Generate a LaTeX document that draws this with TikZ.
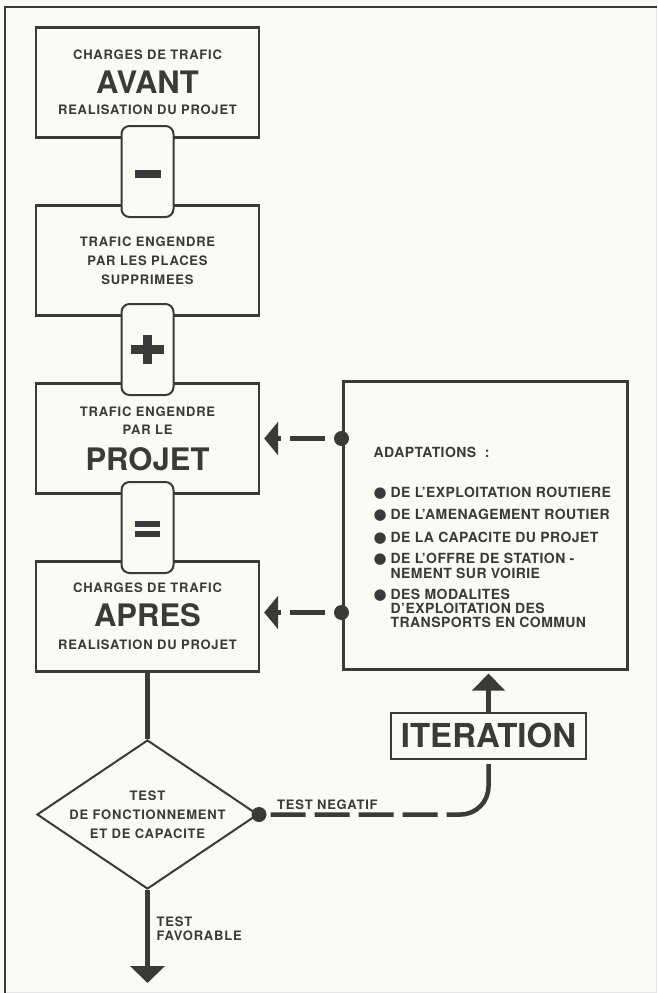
\documentclass[tikz,border=0pt]{standalone}
\usepackage{fontspec}
\setmainfont{TeX Gyre Heros}
\newfontfamily\helv[LetterSpace=6]{TeX Gyre Heros}
\newfontfamily\helvlarge[LetterSpace=3]{TeX Gyre Heros}
\newfontfamily\symb{DejaVu Sans}
\usetikzlibrary{positioning,shapes.geometric,arrows.meta}
\definecolor{encre}{RGB}{58,58,56}
\definecolor{papier}{RGB}{251,251,246}
\newcommand{\petit}{\helv\bfseries\fontsize{13}{19}\selectfont}
\newcommand{\grand}{\normalfont\bfseries\fontsize{31}{19}\selectfont}
\newcommand{\liste}{\helvlarge\bfseries\fontsize{14}{14}\selectfont}
\newcommand{\puce}{\makebox[17pt][l]{\symb\fontsize{15}{14}\selectfont ●}}
\lineskiplimit=-100pt
\begin{document}
\begin{tikzpicture}[x=1pt, y=1pt, node distance=178pt, color=encre,
  boite/.style = {draw, line width=2.4pt, fill=papier, minimum width=223pt, minimum height=110pt, align=center, font=\petit, inner sep=0pt},
  signe/.style = {draw, line width=2pt, fill=papier, rounded corners=8pt, minimum width=52pt, minimum height=91pt},
  pastille/.style = {circle, fill, inner sep=0pt, minimum size=15pt},
  trait/.style = {draw, line width=4.5pt},
  tirets/.style = {trait, dash pattern=on 35pt off 9pt, dash phase=35pt},
  fleche/.style = {-{Triangle[length=14pt,width=33pt]}},
  losange/.style = {diamond, draw, line width=2pt, fill=papier, aspect=1.48, minimum width=221pt, minimum height=149pt, inner xsep=-6pt, inner ysep=0pt, align=center, font=\petit},
  cadre/.style = {draw, line width=3pt, minimum width=284pt, minimum height=288pt},
  iter/.style = {draw, line width=2.5pt, minimum width=195pt, minimum height=46pt, inner sep=0pt, font=\grand\fontsize{33}{19}\selectfont}]
% fond et cadre
\fill[papier] (0,0) rectangle (657,-993);
\useasboundingbox (0,0) rectangle (657,-993);
\draw[black!10, line width=1pt] (656,-7) -- (656,-992) -- (5,-992);
\draw[line width=2pt] (5,-993) -- (5,-7) -- (657,-7);

% colonne de gauche
\node[boite] (avant) at (147.5,-82.5) {CHARGES DE TRAFIC\\[15.5pt]{\grand AVANT}\\[2pt]REALISATION DU PROJET};
\node[boite, below of=avant] (supp) {TRAFIC ENGENDRE\\PAR LES PLACES\\SUPPRIMEES};
\node[boite, below of=supp] (projet) {TRAFIC ENGENDRE\\[-1pt]PAR LE\\[17pt]{\grand PROJET}};
\node[boite, below of=projet] (apres) {CHARGES DE TRAFIC\\[15pt]{\grand APRES}\\[4pt]REALISATION DU PROJET};

% signes
\node[signe, node distance=89pt, below of=avant] (moins) {};
\node[signe, node distance=89pt, below of=supp] (plus) {};
\node[signe, node distance=89pt, below of=projet] (egal) {};
\fill ([shift={(-13,1.5)}]moins.center) rectangle ([shift={(13,-6.5)}]moins.center);
\fill ([shift={(-16.5,4.5)}]plus.center) rectangle ([shift={(16.5,-4.5)}]plus.center);
\fill ([shift={(-4.5,14.5)}]plus.center) rectangle ([shift={(4.5,-14.5)}]plus.center);
\fill ([shift={(-12.5,7)}]egal.center) rectangle ([shift={(12.5,0.5)}]egal.center);
\fill ([shift={(-12.5,-3)}]egal.center) rectangle ([shift={(12.5,-9.5)}]egal.center);

% test
\node[losange, node distance=198pt, below of=apres] (test) {TEST\\DE FONCTIONNEMENT\\ET DE CAPACITE};
\coordinate (fin) at ([yshift=-93pt]test.south);
\draw[trait] (apres) -- (test);
\draw[trait, -{Triangle[length=17pt,width=34pt]}] (test) -- (fin);
\node[anchor=north west, align=left, font=\petit, inner sep=0pt] (favorable) at ([shift={(9,-26.5)}]test.south) {TEST\\[-5pt]FAVORABLE};

% adaptations
\node[cadre] (adapt) at (485,-525) {};
\node[anchor=north west, align=left, font=\liste, inner sep=0pt] (items) at ([shift={(32,-67)}]adapt.north west) {ADAPTATIONS\ \ :\\[26pt]
  \puce DE L’EXPLOITATION ROUTIERE\\[8pt]
  \puce DE L’AMENAGEMENT ROUTIER\\[9pt]
  \puce DE LA CAPACITE DU PROJET\\[7pt]
  \puce DE L’OFFRE DE STATION -\\[1pt]
  \hspace*{17pt}NEMENT SUR VOIRIE\\[7pt]
  \puce DES MODALITES\\
  \hspace*{17pt}D’EXPLOITATION DES\\
  \hspace*{17pt}TRANSPORTS EN COMMUN};
\node[pastille] (p1) at (adapt.west |- projet.east) {};
\node[pastille, yshift=4pt] (p2) at (adapt.west |- apres.east) {};
\draw[tirets, fleche, shorten >=4pt] (p1) -- (p1 -| projet.east);
\draw[tirets, fleche, shorten >=4pt] (p2) -- (p2 -| apres.east);

% iteration
\node[iter, below=41pt of adapt, xshift=3.5pt] (iteration) {ITERATION};
\draw[trait, -{Triangle[length=17pt,width=32pt]}, shorten >=3pt] (iteration.north) -- (iteration.north |- adapt.south);
\node[pastille] (pneg) at (test.east) {};
\draw[trait, rounded corners=28pt, shorten >=4pt,
  dash pattern=on 35pt off 9pt on 35pt off 9pt on 35pt off 9pt on 35pt off 9pt on 120pt off 4pt, dash phase=296pt]
  (pneg) -- (pneg -| iteration.south) -- (iteration.south);
\node[anchor=base west, font=\petit, inner sep=0pt] (negatif) at ([shift={(18,5)}]pneg.center) {TEST NEGATIF};
\end{tikzpicture}
\end{document}
